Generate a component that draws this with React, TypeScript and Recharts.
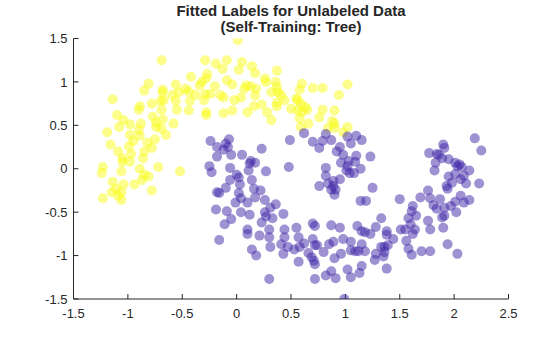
import React from 'react'
import { ScatterChart, Scatter, XAxis, YAxis } from 'recharts'

// points fitted to class 1 (upper moon)
const classUpper: [number, number][] = [
  [-0.69, 1.25], [-0.29, 1.25], [-0.19, 1.21], [-0.42, 1.06], [-0.27, 1.09], [-0.28, 1.04],
  [-0.32, 1.0], [-0.81, 0.98], [-0.68, 0.91], [-0.56, 0.97], [-0.47, 0.92], [-0.34, 0.96],
  [-0.85, 0.9], [-0.2, 0.95], [-0.68, 0.88], [-0.59, 0.85], [-0.53, 0.88], [-0.44, 0.89],
  [-0.38, 0.85], [-0.29, 0.86], [-0.24, 0.86], [-1.14, 0.8], [-0.7, 0.78], [-0.67, 0.79],
  [-0.56, 0.78], [-0.43, 0.78], [-0.3, 0.79], [-0.78, 0.75], [-0.89, 0.72], [-0.9, 0.68],
  [-0.69, 0.68], [-0.55, 0.68], [-0.44, 0.67], [-0.28, 0.65], [-0.28, 0.62], [-1.1, 0.62],
  [-1.04, 0.56], [-0.77, 0.6], [-0.68, 0.57], [-0.15, 0.85],
  [0.01, 1.48], [-0.09, 1.25], [0.05, 1.23], [-0.13, 1.15], [0.14, 1.18], [0.02, 1.14],
  [0.17, 1.1], [0.37, 1.13], [-0.09, 1.02], [-0.04, 0.97], [0.26, 1.04], [0.27, 1.0],
  [0.36, 1.0], [0.09, 0.96], [0.07, 0.92], [0.13, 0.95], [0.18, 0.92], [0.37, 0.94],
  [0.32, 0.88], [0.38, 0.88], [0.6, 0.98], [0.58, 0.91], [0.7, 0.93], [0.79, 0.93],
  [1.02, 0.97], [0.94, 0.85], [-0.12, 0.82], [-0.02, 0.79], [0.04, 0.82], [0.17, 0.84],
  [0.41, 0.85], [0.44, 0.79], [0.55, 0.81], [0.56, 0.79], [0.37, 0.76], [0.37, 0.72],
  [0.23, 0.74], [0.16, 0.72], [0.5, 0.69], [0.59, 0.75], [0.63, 0.71], [0.65, 0.68],
  [0.56, 0.67], [0.6, 0.65], [0.79, 0.68], [0.9, 0.67], [-0.04, 0.67], [0.1, 0.65],
  [0.28, 0.65], [-0.12, 0.64], [0.32, 0.56], [0.58, 0.58], [0.76, 0.59], [0.88, 0.55],
  [-0.98, 0.51], [-0.88, 0.52], [-0.74, 0.53], [-0.58, 0.52], [-1.08, 0.48], [-0.74, 0.48],
  [-0.69, 0.46], [-0.9, 0.45], [-1.19, 0.42], [-0.65, 0.39], [-0.98, 0.39], [-0.89, 0.38],
  [-0.75, 0.34], [-0.95, 0.32], [-0.82, 0.3], [-1.16, 0.28], [-0.99, 0.26], [-0.78, 0.24],
  [-1.09, 0.2], [-0.85, 0.2], [-0.97, 0.17], [-1.05, 0.12], [-0.86, 0.12], [-0.98, 0.08],
  [-1.05, 0.08], [-1.23, 0.02], [-0.72, 0.02], [-1.24, -0.05], [-1.06, -0.03], [-0.89, 0.0],
  [-0.52, -0.03], [-0.85, -0.07], [-0.81, -0.09], [-0.87, -0.13], [-1.14, -0.15], [-1.04, -0.18],
  [-0.94, -0.18], [-1.11, -0.23], [-0.78, -0.25], [-1.15, -0.27], [-1.06, -0.27], [-1.09, -0.31],
  [-1.23, -0.34], [-1.06, -0.36],
  [0.59, 0.48], [0.66, 0.52], [0.9, 0.52], [0.84, 0.47], [0.9, 0.47], [1.02, 0.48], [0.98, 0.42],
]

// points fitted to class 2 (lower moon)
const classLower: [number, number][] = [
  [-0.24, 0.32], [-0.18, 0.25], [-0.18, 0.14], [-0.25, 0.03], [-0.23, -0.04], [-0.18, -0.27],
  [-0.16, -0.28], [-0.19, -0.47],
  [0.62, 0.41], [0.49, 0.33], [0.7, 0.31], [0.76, 0.24], [0.79, 0.32], [0.82, 0.4],
  [0.87, 0.33], [1.02, 0.37], [1.1, 0.38], [1.05, 0.29], [1.15, 0.33], [0.95, 0.25],
  [0.92, 0.2], [0.98, 0.16], [0.96, 0.07], [1.03, 0.09], [1.09, 0.08], [1.1, 0.15],
  [1.14, 0.0], [1.01, -0.02], [1.04, -0.05], [1.08, -0.05], [1.02, 0.03], [0.82, 0.01],
  [0.82, -0.08], [0.95, -0.12], [0.89, -0.14], [0.84, -0.17], [0.76, -0.2], [0.89, -0.2],
  [0.91, -0.24], [0.87, -0.24], [0.9, -0.3], [1.14, -0.37], [0.48, 0.02], [0.27, -0.03],
  [0.23, 0.23], [-0.07, 0.34], [-0.1, 0.29], [-0.08, 0.25], [-0.12, 0.22], [-0.05, 0.16],
  [0.05, 0.16], [0.13, 0.09], [0.17, 0.07], [0.12, 0.06], [0.11, -0.02], [-0.06, 0.01],
  [0.0, -0.07], [0.02, -0.1], [-0.06, -0.13], [0.14, -0.13], [0.03, -0.18], [-0.1, -0.22],
  [0.16, -0.23], [0.22, -0.25], [0.02, -0.28], [0.04, -0.34], [0.17, -0.33], [0.26, -0.36],
  [-0.01, -0.39], [0.1, -0.39], [0.36, -0.41], [0.31, -0.45], [-0.09, -0.49], [0.04, -0.5],
  [0.26, -0.5],
  [1.23, 0.14], [1.25, -0.22], [1.19, -0.37], [1.5, -0.35], [1.62, -0.43], [1.61, -0.49],
  [1.69, -0.33], [1.76, -0.25], [1.78, -0.34], [1.87, -0.35], [1.81, -0.42], [1.84, -0.46],
  [1.91, -0.45], [1.97, -0.43], [2.01, -0.38], [2.06, -0.31], [2.09, -0.39], [2.14, -0.36],
  [1.93, -0.2], [1.94, -0.23], [1.98, -0.16], [1.95, -0.09], [2.01, -0.06], [2.06, -0.12],
  [2.09, -0.08], [2.11, -0.17], [2.14, -0.02], [2.23, -0.17], [2.03, 0.03], [2.05, 0.05],
  [2.07, 0.02], [2.01, 0.07], [1.95, 0.11], [1.89, 0.12], [1.83, 0.07], [1.82, -0.02],
  [1.77, 0.18], [1.84, 0.17], [1.86, 0.16], [1.9, 0.28], [1.91, 0.24], [2.19, 0.35],
  [2.25, 0.21],
  [-0.16, -0.82], [0.12, -0.53], [-0.05, -0.58], [-0.11, -0.64], [0.27, -0.55], [0.33, -0.57],
  [0.43, -0.52], [0.23, -0.62], [0.1, -0.7], [0.1, -0.75], [0.3, -0.7], [0.3, -0.79],
  [0.21, -0.77], [0.31, -0.9], [0.44, -0.7], [0.55, -0.68], [0.44, -0.79], [0.57, -0.79],
  [0.41, -0.87], [0.47, -0.9], [0.14, -0.93], [0.18, -1.0], [0.43, -0.98], [0.53, -0.93],
  [0.58, -0.9], [0.62, -0.86], [0.57, -1.07], [0.7, -0.63], [0.72, -0.66], [0.7, -0.81],
  [0.72, -0.88], [0.74, -0.88], [0.66, -0.97], [0.69, -1.02], [0.71, -1.06], [0.72, -1.1],
  [0.8, -0.96], [0.87, -0.65], [0.95, -0.68], [0.85, -0.87], [0.89, -0.84], [0.98, -0.81],
  [1.05, -0.84], [0.96, -0.98], [0.9, -1.03], [1.05, -0.94], [1.09, -0.95], [1.12, -0.95],
  [1.11, -0.66], [1.15, -0.72], [1.15, -0.87], [1.15, -1.12], [1.13, -1.2], [1.02, -1.16],
  [1.05, -1.25], [0.87, -1.18], [0.82, -1.23], [0.91, -1.26], [0.72, -1.27], [0.3, -1.27],
  [0.99, -1.5],
  [1.33, -0.57], [1.28, -0.67], [1.23, -0.75], [1.18, -0.73], [1.18, -0.95], [1.38, -0.72],
  [1.38, -0.76], [1.44, -0.81], [1.39, -0.88], [1.33, -0.9], [1.36, -0.9], [1.36, -0.96],
  [1.28, -0.98], [1.27, -1.05], [1.35, -1.01], [1.38, -1.15], [1.51, -0.7], [1.55, -0.7],
  [1.58, -0.57], [1.65, -0.54], [1.6, -0.64], [1.64, -0.7], [1.62, -0.75], [1.56, -0.83],
  [1.58, -0.92], [1.61, -0.99], [1.7, -0.95], [1.78, -0.95], [1.76, -0.6], [1.78, -0.7],
  [1.89, -0.56], [1.91, -0.54], [1.9, -0.68], [2.02, -0.5], [1.94, -0.87], [2.03, -0.98],
]

const xTicks = [-1.5, -1, -0.5, 0, 0.5, 1, 1.5, 2, 2.5]
const yTicks = [-1.5, -1, -0.5, 0, 0.5, 1, 1.5]

const YELLOW = '#F9FB15'
const PURPLE = '#3E26A8'
const AXIS = '#262626'
const FONT = '"Liberation Sans", Arial, Helvetica, sans-serif'

const toRows = (pts: [number, number][]) => pts.map(([x, y]) => ({ x, y }))

const dot = (color: string) => (props: any) => (
  <circle cx={props.cx} cy={props.cy} r={5} fill={color} fillOpacity={0.5} stroke="none" />
)

export default function App() {
  return (
    <div style={{ position: 'absolute', left: 0, top: 0, width: 560, height: 337, background: '#fff' }}>
      <div
        style={{
          position: 'absolute', left: 0, top: 3, width: 582, textAlign: 'center',
          fontFamily: FONT, fontWeight: 'bold', fontSize: 15, lineHeight: '15.5px', color: AXIS,
        }}
      >
        Fitted Labels for Unlabeled Data
        <br />
        (Self-Training: Tree)
      </div>
      <ScatterChart width={560} height={337} margin={{ top: 38.5, right: 51.5, bottom: 0, left: 0 }}>
        <XAxis
          type="number"
          dataKey="x"
          domain={[-1.5, 2.5]}
          ticks={xTicks}
          allowDataOverflow
          height={38}
          stroke={AXIS}
          tickSize={-5}
          tickMargin={15}
          tick={{ fill: AXIS, fontSize: 13, fontFamily: FONT }}
        />
        <YAxis
          type="number"
          dataKey="y"
          domain={[-1.5, 1.5]}
          ticks={yTicks}
          allowDataOverflow
          width={73.5}
          stroke={AXIS}
          tickSize={-5}
          tickMargin={11}
          tick={{ fill: AXIS, fontSize: 13, fontFamily: FONT }}
        />
        <Scatter data={toRows(classUpper)} shape={dot(YELLOW)} isAnimationActive={false} />
        <Scatter data={toRows(classLower)} shape={dot(PURPLE)} isAnimationActive={false} />
      </ScatterChart>
    </div>
  )
}
